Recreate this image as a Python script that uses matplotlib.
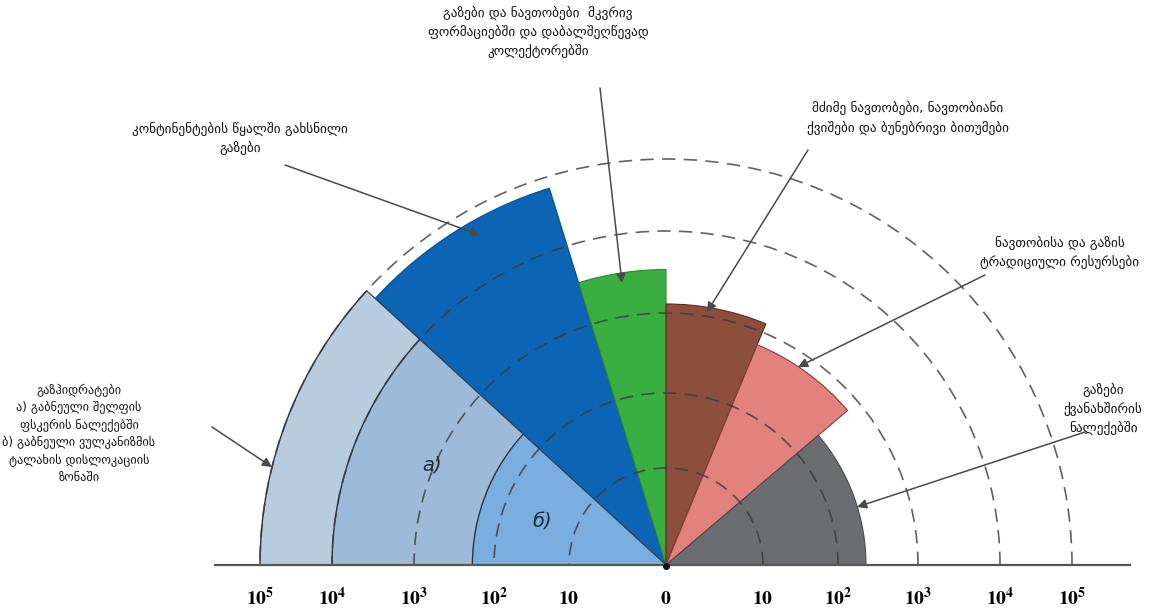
import numpy as np
import matplotlib.pyplot as plt
from matplotlib.patches import Wedge, Arc

plt.rcParams['font.family'] = ['DejaVu Sans']
plt.rcParams['mathtext.fontset'] = 'stix'

# radial scale: decade index -> radius (the drawing's scale is not even)
decades = [0, 1, 2, 3, 4, 5]
decade_r = [0, 97, 172, 252, 334, 406]
tick_labels = ['0', '10', r'10^2', r'10^3', r'10^4', r'10^5']

# sectors: start/end angle (deg) and outer extent in decades
names = ['gas_hydrates', 'continental_waters', 'tight_formations',
         'heavy_oil', 'traditional', 'coal_seams']
theta1 = [137.5, 107.2, 90.0, 67.5, 40.4, 0.0]
theta2 = [180.0, 137.5, 107.2, 90.0, 67.5, 40.4]
extent = [5.02, 4.84, 3.53, 3.11, 2.83, 2.35]
colors = ['#b7cddf', '#0b64b4', '#3aae40', '#8c4f3d', '#e1827f', '#6b6d71']
edges = ['#2a3a4a', '#0b4f90', '#2a8a30', '#5a2a1a', '#8a3a38', '#4a4c50']

# gas hydrate sub-bands (a) shelf sediments, (b) mud volcano zones
band_extent = [5.02, 4.0, 2.27]
band_colors = ['#b7cddf', '#9dbbd9', '#7aaedf']

labels = [
    'გაზჰიდრატები\nა) გაბნეული შელფის\nფსკერის ნალექებში\nბ) გაბნეული ვულკანიზმის\nტალახის დისლოკაციის\nზონაში',
    'კონტინენტების წყალში გახსნილი\nგაზები',
    'გაზები და ნავთობები  მკვრივ\nფორმაციებში და დაბალშეღწევად\nკოლექტორებში',
    'მძიმე ნავთობები, ნავთობიანი\nქვიშები და ბუნებრივი ბითუმები',
    'ნავთობისა და გაზის\nტრადიციული რესურსები',
    'გაზები\nქვანახშირის\nნალექებში',
]
label_size = [8.8, 9.5, 9.5, 9.5, 9.5, 9.5]
# label centre and arrow start/end, pixel-like coords (origin at sector centre)
label_xy = [(-587, 131), (-426, 427), (-128, 533), (242, 447), (394, 313), (437, 156)]
arrow_from = [(-454, 138), (-381, 400), (-66, 477), (142, 415), (319, 290), (419, 133)]
arrow_to = [(-394, 98), (-186, 330), (-44, 282), (41, 253), (132, 198), (191, 58)]


def rad(d):
    return np.interp(d, decades, decade_r)


fig = plt.figure(figsize=(11.67, 6.11), dpi=100)
ax = fig.add_axes([0, 0, 1, 1])
ax.set_xlim(-666, 501)
ax.set_ylim(-46, 565)
ax.set_aspect('equal')
ax.axis('off')

# other sectors first, hydrate bands on top of their shared edge
for i in range(1, 6):
    ax.add_patch(Wedge((0, 0), rad(extent[i]), theta1[i], theta2[i],
                       facecolor=colors[i], edgecolor=edges[i], lw=0.8, zorder=2))
for e, c in zip(band_extent, band_colors):
    ax.add_patch(Wedge((0, 0), rad(e), theta1[0], theta2[0],
                       facecolor=c, edgecolor='none', zorder=3))
for e in band_extent:
    ax.add_patch(Arc((0, 0), 2 * rad(e), 2 * rad(e), theta1=theta1[0], theta2=180,
                     color='#2a3440', lw=1.0, zorder=4))
ax.plot([0, rad(band_extent[0]) * np.cos(np.radians(theta1[0]))],
        [0, rad(band_extent[0]) * np.sin(np.radians(theta1[0]))],
        color='#2a3a4a', lw=0.8, zorder=4)

# dashed decade circles
for d in decades[1:]:
    r = rad(d)
    ax.add_patch(Arc((0, 0), 2 * r, 2 * r, theta1=0, theta2=180,
                     color='#3a3a3a', lw=1.2, ls=(0, (8, 5)), alpha=0.8, zorder=5))

ax.text(-234, 100, 'а)', fontsize=14, style='italic', color='#1e2a38',
        ha='center', va='center', zorder=6)
ax.text(-124, 43, 'б)', fontsize=14, style='italic', color='#1e2a38',
        ha='center', va='center', zorder=6)

# baseline and centre point
ax.plot([-451, 464], [0, 0], color='#555555', lw=1.6, zorder=6)
ax.plot(0, -1, 'o', color='#111111', ms=4, zorder=7)

for d, t in zip(decades, tick_labels):
    s = r'$\mathbf{' + t + '}$'
    if d == 0:
        ax.text(0, -33, s, fontsize=14, ha='center', va='center')
    else:
        ax.text(-rad(d), -33, s, fontsize=14, ha='center', va='center')
        ax.text(rad(d), -33, s, fontsize=14, ha='center', va='center')

for txt, xy, fs, a0, a1 in zip(labels, label_xy, label_size, arrow_from, arrow_to):
    ax.text(xy[0], xy[1], txt, fontsize=fs, ha='center', va='center',
            linespacing=1.45, color='#111111')
    ax.annotate('', xy=a1, xytext=a0,
                arrowprops=dict(arrowstyle='-|>', color='#4a4a4a', lw=1.1,
                                mutation_scale=14, shrinkA=0, shrinkB=0),
                zorder=8)

fig.savefig('out.png', dpi=100)
